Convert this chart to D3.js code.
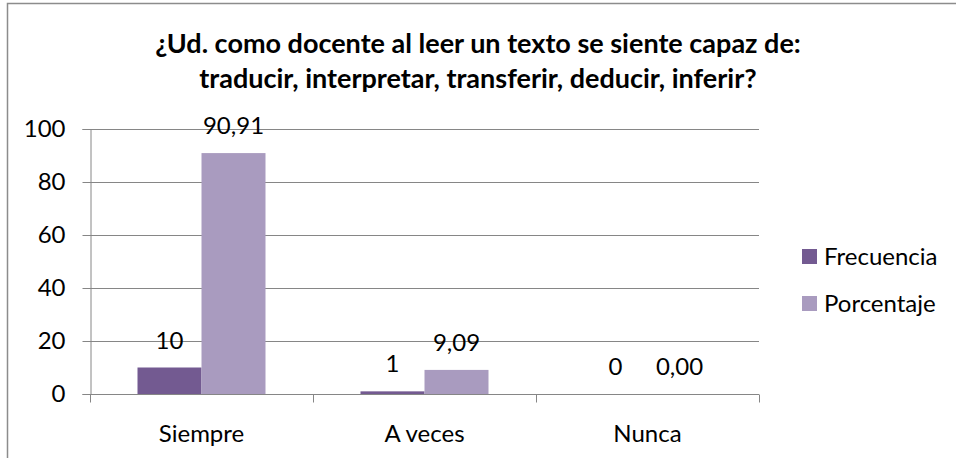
<!DOCTYPE html>
<html lang="es">
<head>
  <meta charset="utf-8">
  <title>Docente al leer un texto</title>
  <script src="https://d3js.org/d3.v7.min.js"></script>
  <style>
    body { margin: 0; background: #fff; }
    svg { font-family: Lato, "Liberation Sans", sans-serif; }
  </style>
</head>
<body>
  <div id="chart"></div>
  <script>
    // data
    const categories = ["Siempre", "A veces", "Nunca"];
    const seriesNames = ["Frecuencia", "Porcentaje"];
    const frecuencia = [10, 1, 0];
    const porcentaje = [90.91, 9.09, 0];
    const yTicks = [0, 20, 40, 60, 80, 100];
    const titleLines = ["¿Ud. como docente al leer un texto se siente capaz de:",
      "traducir, interpretar, transferir, deducir, inferir?"];

    const colors = ["#735a91", "#a99bbf"];
    const width = 956, height = 458;
    const plot = { left: 90, right: 759, top: 129, bottom: 394 };
    const fs = 24;

    const svg = d3.select("#chart").append("svg")
      .attr("width", width)
      .attr("height", height);

    // outer chart border (only top and left visible)
    svg.append("path")
      .attr("d", `M7.5,${height} V3.5 H${width}`)
      .attr("fill", "none")
      .attr("stroke", "#8c8c8c")
      .attr("stroke-width", 1.5);

    // title
    svg.append("g").selectAll("text")
      .data(titleLines)
      .join("text")
      .attr("x", 478)
      .attr("y", (d, i) => 53 + i * 35)
      .attr("text-anchor", "middle")
      .attr("font-weight", "bold")
      .attr("font-size", 27)
      .attr("fill", "#000")
      .text(d => d);

    const x0 = d3.scaleBand().domain(categories).range([plot.left, plot.right]);
    const x1 = d3.scaleBand().domain(seriesNames).range([0, 128]);
    const y = d3.scaleLinear().domain([0, 100]).range([plot.bottom, plot.top]);

    // gridlines
    svg.append("g").selectAll("line")
      .data(yTicks.filter(d => d > 0))
      .join("line")
      .attr("x1", plot.left).attr("x2", plot.right)
      .attr("y1", d => Math.round(y(d)) + 0.5).attr("y2", d => Math.round(y(d)) + 0.5)
      .attr("stroke", "#868686");

    // y axis
    const yAxis = svg.append("g")
      .attr("transform", `translate(${plot.left + 0.5},0)`)
      .call(d3.axisLeft(y).tickValues(yTicks).tickSize(8).tickPadding(17));
    yAxis.select(".domain").attr("stroke", "#868686");
    yAxis.selectAll(".tick line").attr("stroke", "#868686");
    yAxis.selectAll(".tick text").attr("font-size", fs).attr("fill", "#000")
      .attr("font-family", "Lato, sans-serif");

    // bars
    const series = [frecuencia, porcentaje];
    const groups = svg.append("g").selectAll("g")
      .data(categories)
      .join("g")
      .attr("transform", d => `translate(${x0(d) + (x0.bandwidth() - 128) / 2},0)`);

    groups.selectAll("rect")
      .data((c, i) => series.map((s, j) => ({ name: seriesNames[j], value: s[i], j })))
      .join("rect")
      .attr("x", d => x1(d.name))
      .attr("width", x1.bandwidth())
      .attr("y", d => y(d.value))
      .attr("height", d => plot.bottom - y(d.value))
      .attr("fill", d => colors[d.j]);

    // data labels
    const fmt = (v, j) => j === 0 ? String(v) : v.toFixed(2).replace(".", ",");
    groups.selectAll("text")
      .data((c, i) => series.map((s, j) => ({ name: seriesNames[j], value: s[i], j })))
      .join("text")
      .attr("x", d => x1(d.name) + x1.bandwidth() / 2)
      .attr("y", d => y(d.value) - 19)
      .attr("text-anchor", "middle")
      .attr("font-size", fs)
      .attr("fill", "#000")
      .text(d => fmt(d.value, d.j));

    // x axis
    const xAxis = svg.append("g")
      .attr("transform", `translate(0,${plot.bottom + 0.5})`)
      .call(d3.axisBottom(x0).tickSize(0).tickPadding(30));
    xAxis.select(".domain").attr("stroke", "#868686")
      .attr("d", `M${plot.left},0H${plot.right}`);
    xAxis.selectAll(".tick text").attr("font-size", fs).attr("fill", "#000")
      .attr("font-family", "Lato, sans-serif");
    xAxis.append("g").selectAll("line")
      .data([plot.left, plot.left + x0.bandwidth(), plot.left + 2 * x0.bandwidth(), plot.right])
      .join("line")
      .attr("x1", d => Math.round(d) + 0.5).attr("x2", d => Math.round(d) + 0.5)
      .attr("y1", 0).attr("y2", 8)
      .attr("stroke", "#868686");

    // legend
    const legend = svg.append("g").selectAll("g")
      .data(seriesNames)
      .join("g")
      .attr("transform", (d, i) => `translate(802,${249 + i * 47})`);
    legend.append("rect")
      .attr("width", 15).attr("height", 15)
      .attr("fill", (d, i) => colors[i]);
    legend.append("text")
      .attr("x", 22).attr("y", 16)
      .attr("font-size", fs)
      .attr("fill", "#000")
      .text(d => d);
  </script>
</body>
</html>
